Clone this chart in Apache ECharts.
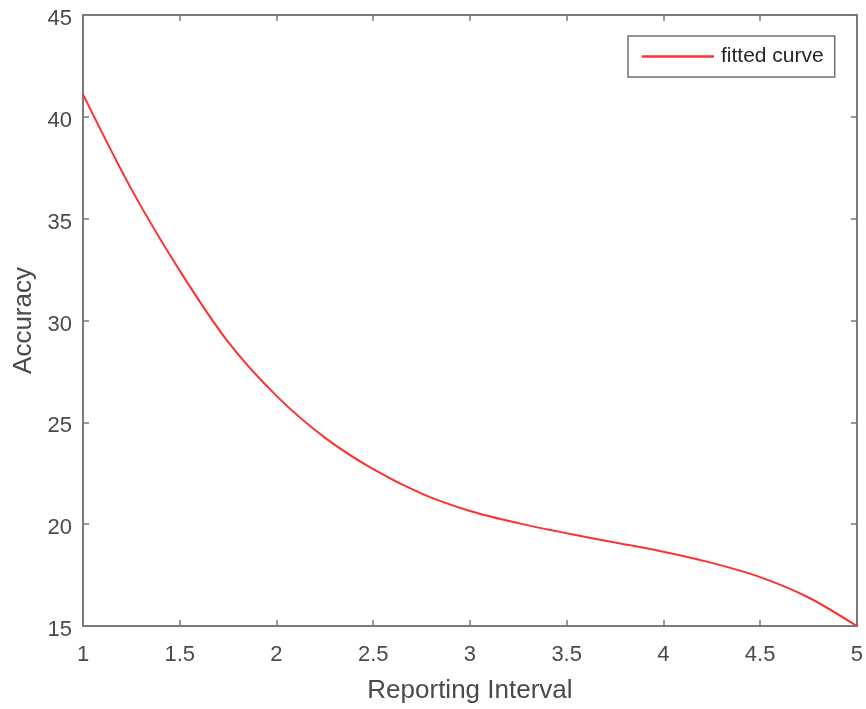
<!DOCTYPE html>
<html>
<head>
<meta charset="utf-8">
<script src="https://cdn.jsdelivr.net/npm/echarts@6/dist/echarts.min.js"></script>
<style>
  html, body { margin: 0; padding: 0; background: #fff; }
  #chart { width: 866px; height: 709px; }
</style>
</head>
<body>
<div id="chart"></div>
<script>
// Fitted curve: accuracy as a function of reporting interval
const reportingInterval = [1, 1.25, 1.5, 1.75, 2, 2.25, 2.5, 2.75, 3, 3.25, 3.5, 3.75, 4, 4.25, 4.5, 4.75, 5];
const accuracy = [41.1, 36.45, 32.45, 28.95, 26.3, 24.25, 22.7, 21.5, 20.65, 20.05, 19.55, 19.1, 18.65, 18.1, 17.4, 16.4, 15.0];
const xTicks = [1, 1.5, 2, 2.5, 3, 3.5, 4, 4.5, 5];
const yTicks = [15, 20, 25, 30, 35, 40, 45];

const FONT = 'Liberation Sans, Arial, sans-serif';
const AXIS_COLOR = '#7a7a7a';
const TEXT_COLOR = '#4a4a4a';
const CURVE_COLOR = '#ff3030';

const points = reportingInterval.map((x, i) => [x, accuracy[i]]);

const axisLineStyle = { show: true, lineStyle: { color: AXIS_COLOR, width: 2 } };
const tickStyle = { show: true, inside: true, length: 6, lineStyle: { color: AXIS_COLOR, width: 1.5 } };

const chart = echarts.init(document.getElementById('chart'), null, { renderer: 'canvas' });
chart.setOption({
  animation: false,
  backgroundColor: '#ffffff',
  grid: { left: 83, right: 9, top: 15, bottom: 83, containLabel: false },
  legend: {
    data: [{ name: 'fitted curve', icon: 'rect' }],
    left: 628, top: 36,
    itemWidth: 72, itemHeight: 2.5, itemGap: 6,
    padding: [10, 11, 10, 14],
    borderColor: '#707070', borderWidth: 1.5, borderRadius: 0,
    backgroundColor: '#ffffff',
    textStyle: { fontFamily: FONT, fontSize: 21, color: '#262626', padding: [0, 0, 0, 2] }
  },
  xAxis: [{
    type: 'value', min: xTicks[0], max: xTicks[xTicks.length - 1], interval: 0.5,
    position: 'bottom',
    name: 'Reporting Interval', nameLocation: 'middle', nameGap: 52,
    nameTextStyle: { fontFamily: FONT, fontSize: 26, color: TEXT_COLOR },
    axisLine: axisLineStyle, axisTick: tickStyle, splitLine: { show: false },
    axisLabel: { fontFamily: FONT, fontSize: 22, color: TEXT_COLOR, margin: 18, formatter: v => String(v) }
  }, {
    type: 'value', min: xTicks[0], max: xTicks[xTicks.length - 1], interval: 0.5,
    position: 'top',
    axisLine: axisLineStyle, axisTick: tickStyle, splitLine: { show: false },
    axisLabel: { show: false }
  }],
  yAxis: [{
    type: 'value', min: yTicks[0], max: yTicks[yTicks.length - 1], interval: 5,
    position: 'left',
    name: 'Accuracy', nameLocation: 'middle', nameGap: 44, nameRotate: 90,
    nameTextStyle: { fontFamily: FONT, fontSize: 26, color: TEXT_COLOR },
    axisLine: axisLineStyle, axisTick: tickStyle, splitLine: { show: false },
    axisLabel: {
      margin: 11,
      formatter: v => '{t|' + v + '}',
      rich: { t: { fontFamily: FONT, fontSize: 22, color: TEXT_COLOR, padding: [8, 0, 0, 0] } }
    }
  }, {
    type: 'value', min: yTicks[0], max: yTicks[yTicks.length - 1], interval: 5,
    position: 'right',
    axisLine: axisLineStyle, axisTick: tickStyle, splitLine: { show: false },
    axisLabel: { show: false }
  }],
  series: [{
    name: 'fitted curve',
    type: 'line',
    data: points,
    smooth: 0.3,
    symbol: 'none',
    lineStyle: { color: CURVE_COLOR, width: 2 },
    itemStyle: { color: CURVE_COLOR }
  }]
});
</script>
</body>
</html>
